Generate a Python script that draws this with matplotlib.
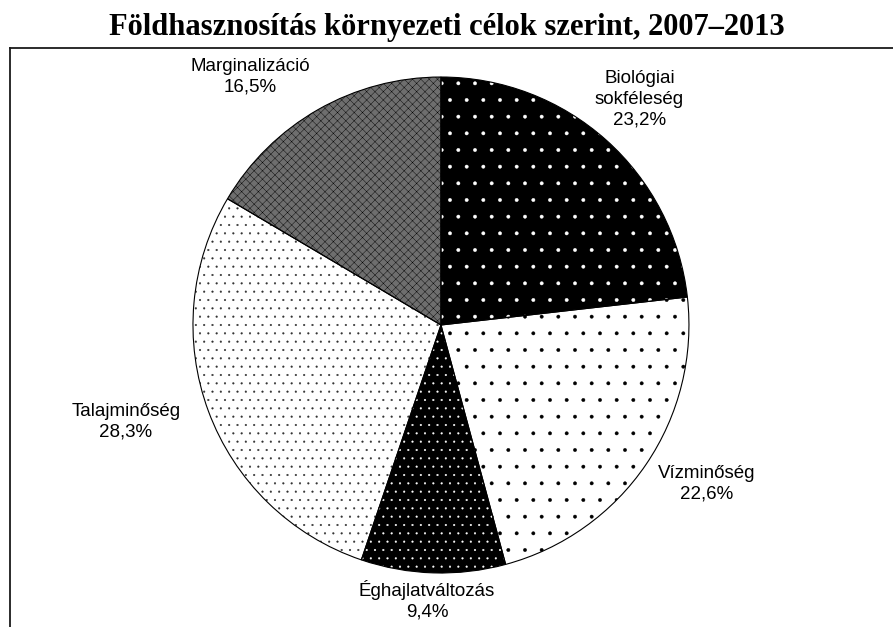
import matplotlib
matplotlib.use("Agg")
import matplotlib.pyplot as plt
from matplotlib.lines import Line2D

labels = ["Biológiai\nsokféleség", "Vízminőség", "Éghajlatváltozás", "Talajminőség", "Marginalizáció"]
shares = [23.2, 22.6, 9.4, 28.3, 16.5]

# fill patterns (face, hatch, hatch colour) for each slice
faces = ["black", "white", "black", "white", "#6e6e6e"]
hatches = [".", ".", "..", "..", "xxxx"]
hatch_cols = ["white", "black", "white", "#303030", "black"]

# label anchor points in pie radius units
label_xy = [(0.80, 0.91), (1.07, -0.64), (-0.056, -1.11), (-1.27, -0.39), (-0.77, 1.0)]

plt.rcParams["hatch.linewidth"] = 0.3
fig = plt.figure(figsize=(8.93, 6.27), dpi=100)
ax = fig.add_axes([0.2161, 0.0861, 0.5554, 0.7911])

wedges, _ = ax.pie(shares, startangle=90, counterclock=False, radius=1,
                   colors=faces, wedgeprops=dict(linewidth=0))
for w, h, hc in zip(wedges, hatches, hatch_cols):
    w.set_hatch(h)
    w.set_edgecolor(hc)

# black outlines on top
ax.pie(shares, startangle=90, counterclock=False, radius=1,
       colors=["none"] * len(shares),
       wedgeprops=dict(fill=False, edgecolor="black", linewidth=0.8))

for lab, val, (x, y) in zip(labels, shares, label_xy):
    txt = f"{lab}\n{val:.1f}%".replace(".", ",")
    ax.text(x, y, txt, ha="center", va="center", fontsize=13.5,
            family="Liberation Sans", linespacing=1.3)

ax.set_xlim(-1, 1)
ax.set_ylim(-1, 1)
ax.set_aspect("equal")
ax.axis("off")

fig.text(0.5, 1 - 28 / 627, "Földhasznosítás környezeti célok szerint, 2007–2013",
         ha="center", va="center", fontsize=22, fontweight="bold",
         family="Liberation Serif")

# chart area frame (left and top edges visible)
x0 = 9.5 / 893
y0 = 1 - 48 / 627
fig.add_artist(Line2D([x0, x0], [0, y0], color="#1a1a1a", lw=1.3))
fig.add_artist(Line2D([x0, 1], [y0, y0], color="#1a1a1a", lw=1.3))

fig.savefig("out.png", dpi=100)
